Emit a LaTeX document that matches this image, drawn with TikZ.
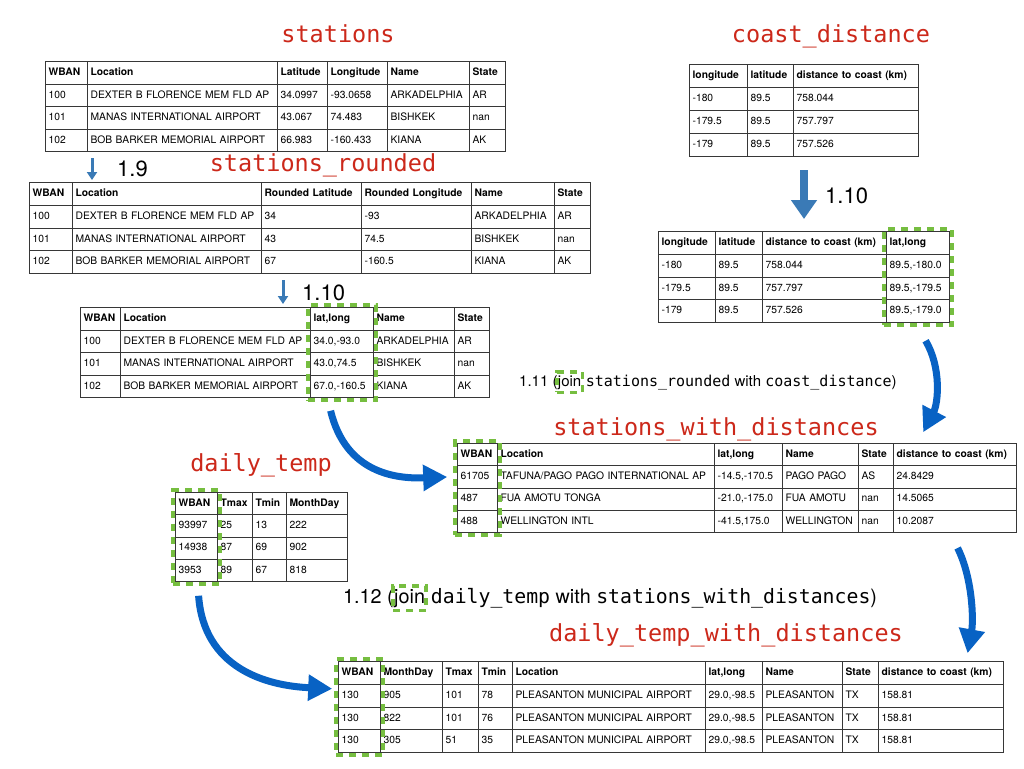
\documentclass[tikz,border=0pt]{standalone}
\usepackage{fontspec}
\setmainfont{TeX Gyre Heros}
\newfontfamily\monofont{DejaVu Sans Mono}
\usetikzlibrary{matrix,fit,arrows.meta}

\definecolor{titlered}{RGB}{204,40,26}
\definecolor{joingreen}{RGB}{118,190,64}
\definecolor{flowblue}{RGB}{8,98,196}
\definecolor{stepblue}{RGB}{58,122,182}
\definecolor{gridgray}{RGB}{55,55,55}

\newcommand\tabfont{\fontsize{10.3}{12}\selectfont}
\newcommand\stepfont{\fontsize{22}{26}\selectfont}
\exhyphenpenalty=10000 \hyphenpenalty=10000

\tikzset{
  tbl/.style={matrix of nodes, anchor=north west, inner sep=0pt,
    row sep=-0.8pt, column sep=-0.8pt,
    nodes={draw=gridgray, line width=0.8pt, font=\tabfont, align=left,
      inner xsep=3pt, inner ysep=0pt, text height=7.6pt, text depth=2.2pt,
      minimum height=#1, anchor=center},
    row 1/.style={nodes={font=\tabfont\bfseries}}},
  tbl/.default=22.5pt,
  cw/.style 2 args={column #1/.style={nodes={text width=#2}}},
  title/.style={font={\fontsize{23.5}{28}\monofont}, text=titlered, anchor=base, inner sep=0pt},
  steplbl/.style={font=\stepfont, anchor=base west, inner sep=0pt},
  joinlbl/.style={font={\fontsize{#1}{#1}\selectfont}, anchor=base west, inner sep=0pt},
  gbox/.style={draw=joingreen, line width=3.5pt, dash pattern=on 7pt off 6pt, inner sep=2pt},
  thinarrow/.style={->, >={Triangle[length=8pt,width=10pt]}, line width=3pt, draw=stepblue},
  fatarrow/.style={->, >={Triangle[length=19pt,width=25pt]}, line width=8pt, draw=stepblue},
  flowarrow/.style={->, >={Triangle[length=24pt,width=25pt]}, line width=7pt, draw=flowblue}
}

\begin{document}
\begin{tikzpicture}[x=1pt,y=-1pt]
\fill[white] (0,0) rectangle (1024,768);
\useasboundingbox (0,0) rectangle (1024,768);

% table corners
\coordinate (T1) at (45,61); \coordinate (T2) at (29,182); \coordinate (T3) at (80,307);
\coordinate (C1) at (689,64); \coordinate (C2) at (658,231);
\coordinate (W1) at (457,443); \coordinate (D1) at (175,492); \coordinate (D2) at (338,661);

\matrix (sta) [tbl, cw={1}{36pt}, cw={2}{184pt}, cw={3}{44pt}, cw={4}{54pt}, cw={5}{76pt}, cw={6}{30pt}] at (T1) {
WBAN & Location & Latitude & Longitude & Name & State \\
100 & DEXTER B FLORENCE MEM FLD AP & 34.0997 & -93.0658 & ARKADELPHIA & AR \\
101 & MANAS INTERNATIONAL AIRPORT & 43.067 & 74.483 & BISHKEK & nan \\
102 & BOB BARKER MEMORIAL AIRPORT & 66.983 & -160.433 & KIANA & AK \\
};

\matrix (srd) [tbl=22.75pt, cw={1}{37pt}, cw={2}{183pt}, cw={3}{94pt}, cw={4}{104pt}, cw={5}{77pt}, cw={6}{30pt}] at (T2) {
WBAN & Location & Rounded Latitude & Rounded Longitude & Name & State \\
100 & DEXTER B FLORENCE MEM FLD AP & 34 & -93 & ARKADELPHIA & AR \\
101 & MANAS INTERNATIONAL AIRPORT & 43 & 74.5 & BISHKEK & nan \\
102 & BOB BARKER MEMORIAL AIRPORT & 67 & -160.5 & KIANA & AK \\
};

\matrix (llst) [tbl, cw={1}{34pt}, cw={2}{184pt}, cw={3}{57pt}, cw={4}{75pt}, cw={5}{29pt}] at (T3) {
WBAN & Location & lat,long & Name & State \\
100 & DEXTER B FLORENCE MEM FLD AP & 34.0,-93.0 & ARKADELPHIA & AR \\
101 & MANAS INTERNATIONAL AIRPORT & 43.0,74.5 & BISHKEK & nan \\
102 & BOB BARKER MEMORIAL AIRPORT & 67.0,-160.5 & KIANA & AK \\
};

\matrix (cd) [tbl=23pt, cw={1}{52pt}, cw={2}{40pt}, cw={3}{119pt}] at (C1) {
longitude & latitude & distance to coast (km) \\
-180 & 89.5 & 758.044 \\
-179.5 & 89.5 & 757.797 \\
-179 & 89.5 & 757.526 \\
};

\matrix (cdl) [tbl=22.75pt, cw={1}{51pt}, cw={2}{41pt}, cw={3}{118pt}, cw={4}{57pt}] at (C2) {
longitude & latitude & distance to coast (km) & lat,long \\
-180 & 89.5 & 758.044 & 89.5,-180.0 \\
-179.5 & 89.5 & 757.797 & 89.5,-179.5 \\
-179 & 89.5 & 757.526 & 89.5,-179.0 \\
};

\matrix (swd) [tbl=22.25pt, cw={1}{34pt}, cw={2}{211pt}, cw={3}{62pt}, cw={4}{70pt}, cw={5}{29pt}, cw={6}{117pt}] at (W1) {
WBAN & Location & lat,long & Name & State & distance to coast (km) \\
61705 & TAFUNA/PAGO PAGO INTERNATIONAL AP & -14.5,-170.5 & PAGO PAGO & AS & 24.8429 \\
487 & FUA AMOTU TONGA & -21.0,-175.0 & FUA AMOTU & nan & 14.5065 \\
488 & WELLINGTON INTL & -41.5,175.0 & WELLINGTON & nan & 10.2087 \\
};

\matrix (dt) [tbl=22.25pt, cw={1}{36pt}, cw={2}{29pt}, cw={3}{28pt}, cw={4}{55pt}] at (D1) {
WBAN & Tmax & Tmin & MonthDay \\
93997 & 25 & 13 & 222 \\
14938 & 87 & 69 & 902 \\
3953 & 89 & 67 & 818 \\
};

\matrix (dtd) [tbl=22.75pt, cw={1}{36pt}, cw={2}{56pt}, cw={3}{30pt}, cw={4}{28pt}, cw={5}{187pt}, cw={6}{51pt}, cw={7}{74pt}, cw={8}{30pt}, cw={9}{119pt}] at (D2) {
WBAN & MonthDay & Tmax & Tmin & Location & lat,long & Name & State & distance to coast (km) \\
130 & 905 & 101 & 78 & PLEASANTON MUNICIPAL AIRPORT & 29.0,-98.5 & PLEASANTON & TX & 158.81 \\
130 & 822 & 101 & 76 & PLEASANTON MUNICIPAL AIRPORT & 29.0,-98.5 & PLEASANTON & TX & 158.81 \\
130 & 305 & 51 & 35 & PLEASANTON MUNICIPAL AIRPORT & 29.0,-98.5 & PLEASANTON & TX & 158.81 \\
};

% key columns
\node[gbox, fit=(llst-1-3)(llst-4-3)] (llbox) {};
\node[gbox, fit=(cdl-1-4)(cdl-4-4)] (cdlbox) {};
\node[gbox, fit=(swd-1-1)(swd-4-1)] (swdbox) {};
\node[gbox, fit=(dt-1-1)(dt-4-1)] (dtbox) {};
\node[gbox, fit=(dtd-1-1)(dtd-4-1)] (dtdbox) {};

% titles
\node[title] (tsta) at (338,43) {stations};
\node[title] (tsrd) at (323,171) {stations\_rounded};
\node[title] (tcd) at (831,43) {coast\_distance};
\node[title] (tswd) at (716,435) {stations\_with\_distances};
\node[title] (tdt) at (261,471) {daily\_temp};
\node[title] (tdtd) at (726,641) {daily\_temp\_with\_distances};

% steps
\node[steplbl] (s19) at (117,176) {1.9};
\node[steplbl] (s110a) at (302,300) {1.10};
\node[steplbl] (s110b) at (825,203) {1.10};

\node[joinlbl=15] (s111) at (519,386) {1.11 (};
\node[joinlbl=15] (j111) at (s111.base east) {join};
\node[joinlbl=15] (r111) at (j111.base east) {\ {\monofont stations\_rounded} with {\monofont coast\_distance})};
\node[gbox, inner xsep=1pt, inner ysep=3pt, fit=(j111)] {};

\node[joinlbl=19.8] (s112) at (343,603) {1.12 (};
\node[joinlbl=19.8] (j112) at (s112.base east) {join};
\node[joinlbl=19.8] (r112) at (j112.base east) {\ {\monofont daily\_temp} with {\monofont stations\_with\_distances})};
\node[gbox, inner xsep=1pt, inner ysep=3pt, fit=(j112)] {};

% arrows
\draw[thinarrow] ([xshift=47pt,yshift=-6pt]sta.south west) -- ([xshift=63pt,yshift=2pt]srd.north west);
\draw[thinarrow] ([xshift=254pt,yshift=-6pt]srd.south west) -- ([xshift=203pt,yshift=3pt]llst.north west);
\draw[fatarrow] ([xshift=115pt,yshift=-13pt]cd.south west) -- ([xshift=146pt,yshift=12pt]cdl.north west);

\draw[flowarrow] ([xshift=-11.5pt,yshift=-9pt]llbox.south) .. controls +(15,62) and +(-52,2) .. ([xshift=-10pt]swd-2-1.west);
\draw[flowarrow] ([xshift=7.5pt,yshift=-14pt]cdlbox.south) .. controls +(16,27) and +(15,-29) .. ([xshift=30pt,yshift=11pt]swd-1-6.north west);
\draw[flowarrow] ([xshift=2.5pt,yshift=-15pt]swd-4-6.south) .. controls +(15,30) and +(6,-33) .. ([xshift=26.5pt,yshift=8pt]dtd-1-9.north);
\draw[flowarrow] ([xshift=2pt,yshift=-10pt]dtbox.south) .. controls +(5,72) and +(-67,-3) .. ([xshift=-6pt,yshift=7pt]dtd-2-1.west);

\end{tikzpicture}
\end{document}
